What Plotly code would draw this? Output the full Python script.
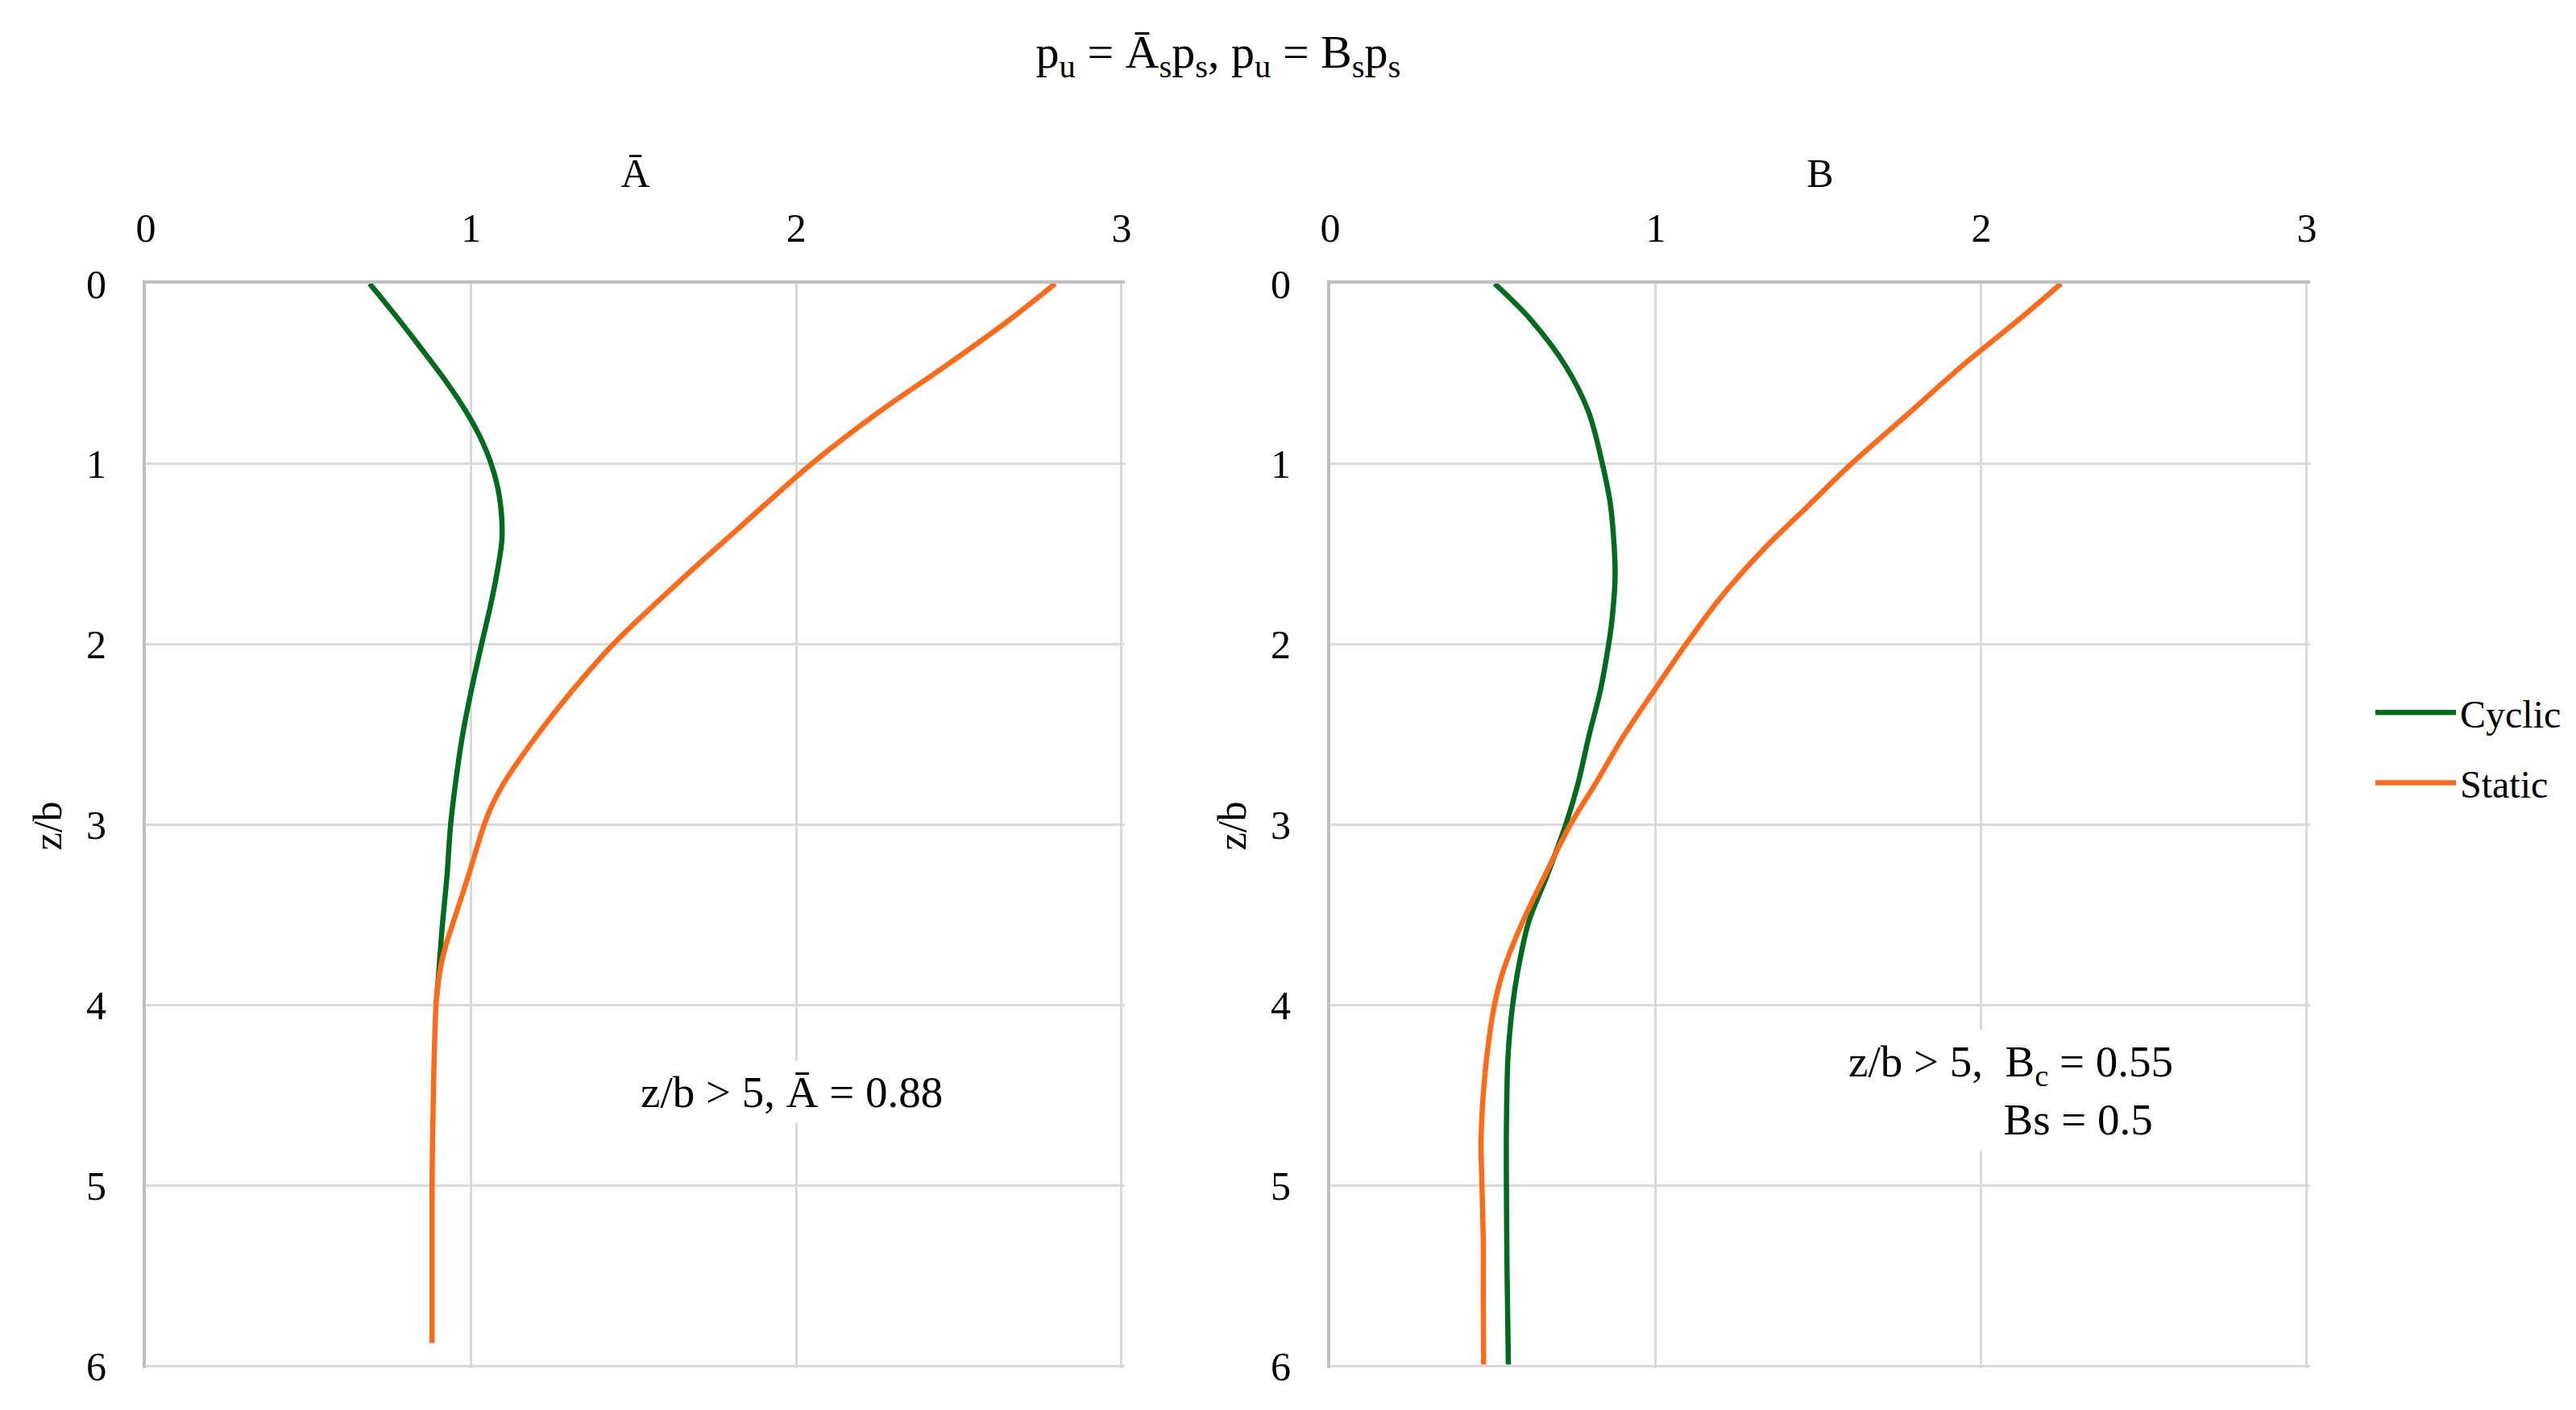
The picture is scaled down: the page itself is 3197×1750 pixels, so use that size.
import plotly.graph_objects as go
from plotly.subplots import make_subplots

# ---------------- data ----------------
# Left panel (A-bar)
a_cyc_z = [0, 0.2, 0.41, 0.53, 0.69, 0.84, 1.0, 1.18, 1.41, 1.61, 1.79, 2.0, 2.26, 2.51, 2.77, 3.0, 3.28, 3.59, 3.9, 3.95]
a_cyc_x = [0.688, 0.778, 0.868, 0.918, 0.978, 1.025, 1.062, 1.087, 1.095, 1.079, 1.059, 1.032, 1.0, 0.973, 0.952, 0.937, 0.926, 0.91, 0.897, 0.894]

a_sta_z = [0, 0.2, 0.457, 0.714, 1.0, 1.36, 1.61, 2.0, 2.26, 2.51, 2.77, 2.9, 3.0, 3.28, 3.54, 3.67, 3.8, 3.95, 4.4, 5.0, 5.87]
a_sta_x = [2.796, 2.656, 2.458, 2.252, 2.046, 1.82, 1.665, 1.436, 1.309, 1.2, 1.1, 1.062, 1.04, 0.992, 0.945, 0.922, 0.905, 0.894, 0.885, 0.88, 0.88]

# Right panel (B)
b_cyc_z = [0, 0.2, 0.457, 0.714, 1.0, 1.23, 1.61, 1.87, 2.0, 2.26, 2.51, 2.77, 3.0, 3.28, 3.54, 3.81, 4.0, 4.28, 4.68, 5.0, 5.47, 5.99]
b_cyc_x = [0.505, 0.616, 0.723, 0.794, 0.836, 0.861, 0.875, 0.865, 0.855, 0.829, 0.794, 0.761, 0.723, 0.666, 0.609, 0.576, 0.56, 0.546, 0.541, 0.541, 0.543, 0.547]

b_sta_z = [0, 0.2, 0.457, 0.714, 1.0, 1.23, 1.48, 1.74, 2.0, 2.26, 2.51, 2.77, 3.0, 3.28, 3.54, 3.81, 4.0, 4.28, 4.52, 4.76, 5.0, 5.31, 5.63, 5.99]
b_sta_x = [2.245, 2.115, 1.94, 1.78, 1.6, 1.469, 1.327, 1.199, 1.092, 0.993, 0.90, 0.815, 0.737, 0.659, 0.59, 0.531, 0.504, 0.481, 0.469, 0.463, 0.466, 0.47, 0.47, 0.471]

series_names = ["Cyclic", "Static"]
x_ticks = [0, 1, 2, 3]
z_ticks = [0, 1, 2, 3, 4, 5, 6]
x_range = [0, 3.01]
z_range = [6.01, 0]

# ---------------- style ----------------
FONT = "Liberation Serif"
GREEN = "#006B1E"
ORANGE = "#FF6B1A"
GRID = "#D9D9D9"
AXLINE = "#BFBFBF"
W, H = 3197, 1750

fig = make_subplots(rows=1, cols=2, horizontal_spacing=0.08)

def add_pair(cx, cz, sx, sz, col, show):
    fig.add_trace(go.Scatter(x=cx, y=cz, mode="lines", name=series_names[0],
                             legendgroup="c", showlegend=show,
                             line=dict(color=GREEN, width=6.5, shape="spline", smoothing=0.9)),
                  row=1, col=col)
    fig.add_trace(go.Scatter(x=sx, y=sz, mode="lines", name=series_names[1],
                             legendgroup="s", showlegend=show,
                             line=dict(color=ORANGE, width=6.5, shape="spline", smoothing=0.9)),
                  row=1, col=col)

add_pair(a_cyc_x, a_cyc_z, a_sta_x, a_sta_z, 1, True)
add_pair(b_cyc_x, b_cyc_z, b_sta_x, b_sta_z, 2, False)

ydom = [1 - 1690 / H, 1 - 344 / H]
xdoms = [[173 / W, 1388 / W], [1643 / W, 2859 / W]]
xtitles = ["Ā", "B"]

for i in range(2):
    xa = "xaxis" if i == 0 else "xaxis2"
    ya = "yaxis" if i == 0 else "yaxis2"
    fig.layout[xa].update(
        domain=xdoms[i], range=x_range, side="top", tickvals=x_ticks,
        showgrid=True, gridcolor=GRID, gridwidth=3, zeroline=False,
        showline=True, linecolor=AXLINE, linewidth=4, ticks="",
        ticklabelstandoff=28, automargin=False,
        tickfont=dict(family=FONT, size=50, color="#000"),
        title=dict(text=xtitles[i], font=dict(family=FONT, size=50, color="#000"), standoff=8),
    )
    fig.layout[ya].update(
        domain=ydom, range=z_range, tickvals=z_ticks,
        showgrid=True, gridcolor=GRID, gridwidth=3, zeroline=False,
        showline=True, linecolor=AXLINE, linewidth=4, ticks="",
        ticklabelstandoff=35, automargin=False,
        tickfont=dict(family=FONT, size=50, color="#000"),
        title=dict(text="z/b", font=dict(family=FONT, size=50, color="#000"), standoff=16),
    )

fig.add_annotation(x=1.985, y=4.48, xref="x", yref="y",
                   text="z/b > 5, Ā = 0.88", showarrow=False,
                   font=dict(family=FONT, size=55, color="#000"),
                   bgcolor="white", borderpad=8)
fig.add_annotation(x=2.09, y=4.47, xref="x2", yref="y2",
                   text="z/b > 5,  B<sub>c</sub> = 0.55<br>" + "&nbsp;" * 14 + "Bs = 0.5",
                   align="left", showarrow=False,
                   font=dict(family=FONT, size=55, color="#000"),
                   bgcolor="white", borderpad=8)

fig.update_layout(
    width=W, height=H,
    margin=dict(l=0, r=0, t=0, b=0),
    paper_bgcolor="white", plot_bgcolor="white",
    font=dict(family=FONT, color="#000"),
    title=dict(text="p<sub>u</sub> = Ā<sub>s</sub>p<sub>s</sub>, p<sub>u</sub> = B<sub>s</sub>p<sub>s</sub>",
               x=1504 / W, xanchor="center", y=1 - 56 / H, yanchor="middle",
               yref="container", font=dict(family=FONT, size=58, color="#000")),
    legend=dict(x=2935 / W, xanchor="left", y=1 - 920 / H, yanchor="middle",
                font=dict(family=FONT, size=48, color="#000"),
                itemwidth=100, tracegroupgap=22, bgcolor="rgba(0,0,0,0)"),
)

fig.write_html("out.html")
